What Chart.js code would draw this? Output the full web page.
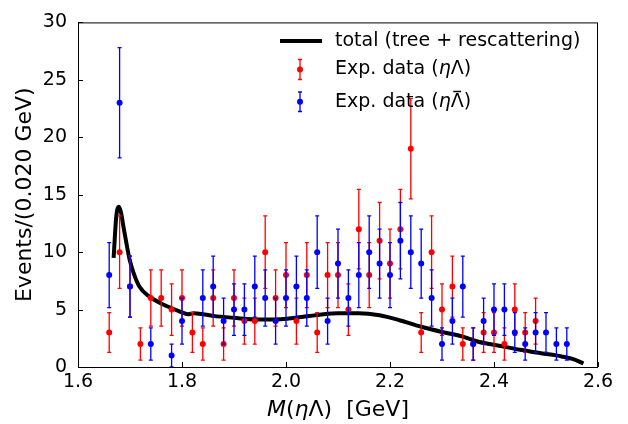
<!DOCTYPE html>
<html lang="en">
<head>
<meta charset="UTF-8">
<title>M(ηΛ) distribution</title>
<script src="https://cdn.jsdelivr.net/npm/chart.js@4"></script>
<style>
    html, body { margin: 0; padding: 0; background: #fff; }
    #wrap { width: 628px; height: 424px; }
</style>
</head>
<body>
<div id="wrap"><canvas id="massChart" width="628" height="424"></canvas></div>
<script>
// eta Lambda channel (red points)
const lamMass = [1.66, 1.68, 1.70, 1.72, 1.74, 1.76, 1.78, 1.80, 1.82, 1.84, 1.86, 1.88, 1.90, 1.92,
    1.94, 1.96, 1.98, 2.00, 2.02, 2.04, 2.06, 2.08, 2.10, 2.12, 2.14, 2.16, 2.18, 2.20, 2.22, 2.24,
    2.26, 2.28, 2.30, 2.32, 2.34, 2.36, 2.38, 2.40, 2.42, 2.44, 2.46, 2.48];
const lamEvents = [3, 10, 7, 2, 6, 6, 5, 6, 3, 2, 6, 2, 6, 4,
    4, 10, 6, 8, 4, 8, 3, 8, 8, 5, 12, 8, 11, 9, 12, 19,
    3, 10, 5, 7, 2, 2, 3, 3, 2, 5, 3, 4];
const lamErr = [1.73, 3.16, 2.65, 1.41, 2.45, 2.45, 2.24, 2.45, 1.73, 1.41, 2.45, 1.41, 2.45, 2.0,
    2.0, 3.16, 2.45, 2.83, 2.0, 2.83, 1.73, 2.83, 2.83, 2.24, 3.46, 2.83, 3.32, 3.0, 3.46, 4.36,
    1.73, 3.16, 2.24, 2.65, 1.41, 1.41, 1.73, 1.73, 1.41, 2.24, 1.73, 2.0];

// eta anti-Lambda channel (blue points)
const barMass = [1.66, 1.68, 1.70, 1.74, 1.78, 1.80, 1.84, 1.86, 1.88, 1.90, 1.92, 1.94, 1.96, 1.98,
    2.00, 2.02, 2.04, 2.06, 2.08, 2.10, 2.12, 2.14, 2.16, 2.18, 2.20, 2.22, 2.24, 2.26,
    2.28, 2.30, 2.32, 2.34, 2.36, 2.38, 2.40, 2.42, 2.44, 2.46, 2.48, 2.50, 2.52, 2.54];
const barEvents = [8, 23, 7, 2, 1, 4, 6, 7, 4, 5, 5, 7, 6, 4,
    6, 7, 6, 10, 4, 9, 6, 8, 10, 9, 8, 11, 10, 9,
    6, 2, 4, 7, 2, 4, 5, 5, 3, 2, 3, 3, 2, 2];
const barErr = [2.83, 4.80, 2.65, 1.41, 1.0, 2.0, 2.45, 2.65, 2.0, 2.24, 2.24, 2.65, 2.45, 2.0,
    2.45, 2.65, 2.45, 3.16, 2.0, 3.0, 2.45, 2.83, 3.16, 3.0, 2.83, 3.32, 3.16, 3.0,
    2.45, 1.41, 2.0, 2.65, 1.41, 2.0, 2.24, 2.24, 1.73, 1.41, 1.73, 1.73, 1.41, 1.41];

// total (tree + rescattering) curve
const curveMass = [1.6685, 1.6736, 1.6787, 1.683, 1.687, 1.693, 1.699, 1.706, 1.718, 1.738, 1.757,
    1.776, 1.795, 1.812, 1.822, 1.84, 1.86, 1.90, 1.95, 1.99, 2.03, 2.065, 2.10, 2.14, 2.18,
    2.22, 2.26, 2.30, 2.34, 2.37, 2.41, 2.45, 2.49, 2.53, 2.555, 2.572];
const curveEvents = [9.5, 13.1, 13.95, 13.4, 12.3, 10.8, 9.4, 8.3, 7.0, 6.1, 5.6,
    5.2, 4.85, 4.6, 4.68, 4.6, 4.45, 4.28, 4.13, 4.15, 4.35, 4.55, 4.68, 4.68, 4.5,
    4.05, 3.5, 3.05, 2.65, 2.2, 1.85, 1.5, 1.2, 0.92, 0.65, 0.3];

const xTicks = [1.6, 1.8, 2.0, 2.2, 2.4, 2.6];
const yTicks = [0, 5, 10, 15, 20, 25, 30];

const FONT = 'DejaVu Sans';
const RED = '#ff0000';
const BLUE = '#0000ff';

function toPoints(xs, ys) {
    return xs.map((x, i) => ({ x: x, y: ys[i] }));
}

// draw one errorbar glyph (vertical line with caps)
function errorGlyph(ctx, x, yTop, yBot, color) {
    ctx.strokeStyle = color;
    ctx.lineWidth = 1.3;
    ctx.beginPath();
    ctx.moveTo(x, yTop); ctx.lineTo(x, yBot);
    ctx.moveTo(x - 2, yTop); ctx.lineTo(x + 2, yTop);
    ctx.moveTo(x - 2, yBot); ctx.lineTo(x + 2, yBot);
    ctx.stroke();
}

// text made of runs with different fonts; run.bar puts an overline on it
function drawRuns(ctx, runs, x, y, align) {
    let total = 0;
    runs.forEach(r => { ctx.font = r.font; total += ctx.measureText(r.t).width; });
    let cx = align === 'center' ? x - total / 2 : x;
    ctx.textBaseline = 'middle';
    ctx.textAlign = 'left';
    ctx.fillStyle = '#000';
    runs.forEach(r => {
        ctx.font = r.font;
        const w = ctx.measureText(r.t).width;
        ctx.fillText(r.t, cx, y);
        if (r.bar) {
            ctx.strokeStyle = '#000';
            ctx.lineWidth = 1.5;
            ctx.beginPath();
            ctx.moveTo(cx + w * 0.2, y - 10.5);
            ctx.lineTo(cx + w * 0.8, y - 10.5);
            ctx.stroke();
        }
        cx += w;
    });
}

const errorBars = {
    id: 'errorBars',
    beforeDatasetDraw(chart, args) {
        const ds = chart.data.datasets[args.index];
        if (!ds.errors) return;
        const ctx = chart.ctx;
        const yScale = chart.scales.y;
        ctx.save();
        args.meta.data.forEach((el, i) => {
            const v = ds.data[i].y;
            const e = ds.errors[i];
            errorGlyph(ctx, el.x, yScale.getPixelForValue(v + e),
                yScale.getPixelForValue(Math.max(v - e, 0)), ds.borderColor);
        });
        ctx.restore();
    }
};

const frame = {
    id: 'frame',
    afterDraw(chart) {
        const ctx = chart.ctx;
        const a = chart.chartArea;
        const xs = chart.scales.x, ys = chart.scales.y;
        ctx.save();
        ctx.strokeStyle = '#000';
        ctx.lineWidth = 1;
        ctx.strokeRect(a.left + 0.5, a.top + 0.5, a.right - a.left - 1, a.bottom - a.top);
        // inward ticks
        ctx.beginPath();
        yTicks.forEach(v => {
            const p = Math.round(ys.getPixelForValue(v)) + 0.5;
            ctx.moveTo(a.left, p); ctx.lineTo(a.left + 5, p);
        });
        xTicks.forEach(v => {
            const p = Math.round(xs.getPixelForValue(v)) + 0.5;
            ctx.moveTo(p, a.bottom); ctx.lineTo(p, a.bottom - 5);
        });
        ctx.stroke();

        // x axis label
        const reg = '22px "' + FONT + '"';
        const ita = 'italic 22px "' + FONT + '"';
        drawRuns(ctx, [
            { t: 'M', font: ita }, { t: '(', font: reg }, { t: 'η', font: ita },
            { t: 'Λ)  [GeV]', font: reg }
        ], (a.left + a.right) / 2, 410, 'center');

        // legend
        const lr = '19px "' + FONT + '"';
        const li = 'italic 19px "' + FONT + '"';
        ctx.strokeStyle = '#000';
        ctx.lineWidth = 4;
        ctx.beginPath();
        ctx.moveTo(280, 41); ctx.lineTo(322, 41);
        ctx.stroke();
        drawRuns(ctx, [{ t: 'total (tree + rescattering)', font: lr }], 335, 41, 'left');

        errorGlyph(ctx, 300, 59.5, 79.5, RED);
        ctx.fillStyle = RED;
        ctx.beginPath(); ctx.arc(300, 69.5, 3, 0, Math.PI * 2); ctx.fill();
        drawRuns(ctx, [{ t: 'Exp. data (', font: lr }, { t: 'η', font: li }, { t: 'Λ', font: lr }, { t: ')', font: lr }], 335, 69, 'left');

        errorGlyph(ctx, 300, 92, 111.5, BLUE);
        ctx.fillStyle = BLUE;
        ctx.beginPath(); ctx.arc(300, 101.7, 3, 0, Math.PI * 2); ctx.fill();
        drawRuns(ctx, [{ t: 'Exp. data (', font: lr }, { t: 'η', font: li }, { t: 'Λ', font: lr, bar: true }, { t: ')', font: lr }], 335, 102, 'left');
        ctx.restore();
    }
};

new Chart(document.getElementById('massChart'), {
    type: 'scatter',
    data: {
        datasets: [
            {
                label: 'Exp. data (ηΛ̄)',
                data: toPoints(barMass, barEvents),
                errors: barErr,
                borderColor: BLUE,
                backgroundColor: BLUE,
                pointRadius: 3,
                pointBorderWidth: 0,
                order: 1
            },
            {
                label: 'Exp. data (ηΛ)',
                data: toPoints(lamMass, lamEvents),
                errors: lamErr,
                borderColor: RED,
                backgroundColor: RED,
                pointRadius: 3,
                pointBorderWidth: 0,
                order: 2
            },
            {
                type: 'line',
                label: 'total (tree + rescattering)',
                data: toPoints(curveMass, curveEvents),
                borderColor: '#000',
                borderWidth: 4,
                pointRadius: 0,
                fill: false,
                cubicInterpolationMode: 'monotone',
                order: 3
            }
        ]
    },
    options: {
        responsive: false,
        animation: false,
        devicePixelRatio: 1,
        layout: { padding: { left: 0, top: 15, right: 30, bottom: 0 } },
        plugins: { legend: { display: false }, tooltip: { enabled: false } },
        scales: {
            x: {
                type: 'linear',
                min: 1.6,
                max: 2.6,
                afterBuildTicks: s => { s.ticks = xTicks.map(v => ({ value: v })); },
                afterFit: s => { s.height = 57; },
                grid: { display: false, drawTicks: false },
                border: { display: false },
                ticks: {
                    callback: v => v.toFixed(1),
                    font: { family: FONT, size: 19 },
                    color: '#000',
                    padding: 4,
                    maxRotation: 0,
                    autoSkip: false
                }
            },
            y: {
                min: 0,
                max: 30,
                afterBuildTicks: s => { s.ticks = yTicks.map(v => ({ value: v })); },
                afterFit: s => { s.width = 78; },
                grid: { display: false, drawTicks: false },
                border: { display: false },
                ticks: {
                    font: { family: FONT, size: 19 },
                    color: '#000',
                    padding: 11
                },
                title: {
                    display: true,
                    text: 'Events/(0.020 GeV)',
                    font: { family: FONT, size: 22 },
                    color: '#000',
                    padding: { top: 12, bottom: 0 }
                }
            }
        }
    },
    plugins: [errorBars, frame]
});
</script>
</body>
</html>
